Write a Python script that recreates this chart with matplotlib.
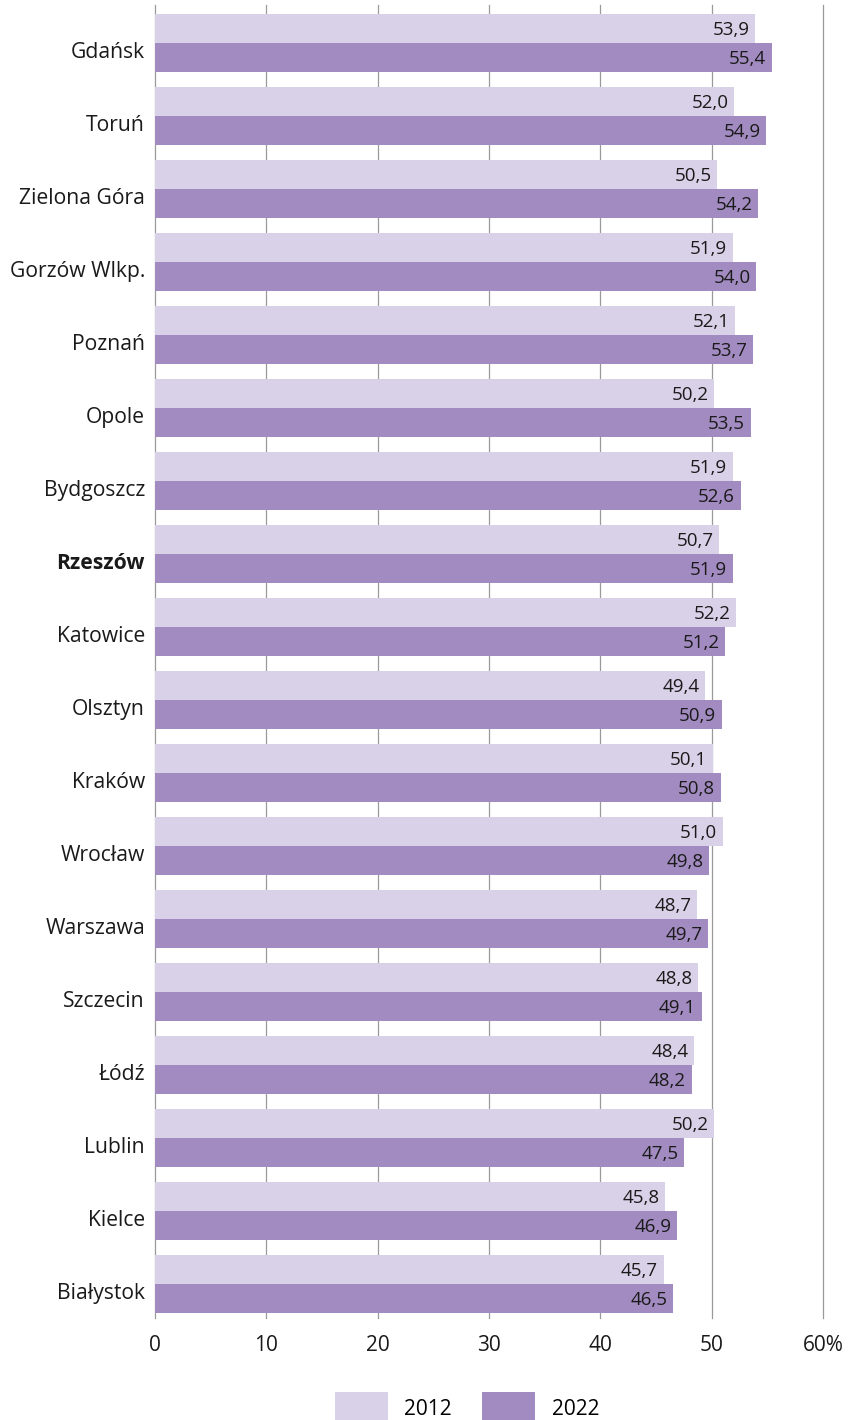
import matplotlib.pyplot as plt
import numpy as np

plt.rcParams['font.family'] = ['Open Sans', 'DejaVu Sans']

miasta = ["Gdańsk", "Toruń", "Zielona Góra", "Gorzów Wlkp.", "Poznań", "Opole",
          "Bydgoszcz", "Rzeszów", "Katowice", "Olsztyn", "Kraków", "Wrocław",
          "Warszawa", "Szczecin", "Łódź", "Lublin", "Kielce", "Białystok"]
r2012 = [53.9, 52.0, 50.5, 51.9, 52.1, 50.2, 51.9, 50.7, 52.2, 49.4, 50.1, 51.0,
         48.7, 48.8, 48.4, 50.2, 45.8, 45.7]
r2022 = [55.4, 54.9, 54.2, 54.0, 53.7, 53.5, 52.6, 51.9, 51.2, 50.9, 50.8, 49.8,
         49.7, 49.1, 48.2, 47.5, 46.9, 46.5]
lata = ["2012", "2022"]
xticks = [0, 10, 20, 30, 40, 50, 60]
xtick_labels = ["0", "10", "20", "30", "40", "50", "60%"]

kolor_2012 = "#d9d1e8"
kolor_2022 = "#a28bc0"
tekst = "#1a1a1a"

fig = plt.figure(figsize=(8.53, 14.2), dpi=100)
ax = fig.add_axes([155/853, 1 - 1318/1420, (823 - 155)/853, (1318 - 5)/1420])

y = np.arange(len(miasta))
h = 0.4
b1 = ax.barh(y - h/2, r2012, height=h, color=kolor_2012, label=lata[0], zorder=2)
b2 = ax.barh(y + h/2, r2022, height=h, color=kolor_2022, label=lata[1], zorder=2)

for bars in (b1, b2):
    for rect in bars:
        v = rect.get_width()
        ax.text(v - 0.5, rect.get_y() + rect.get_height()/2 + 0.02,
                f"{v:.1f}".replace(".", ","), ha="right", va="center",
                fontsize=13.5, color=tekst, zorder=3)

# nazwy miast troche ponizej srodka grupy, jak w oryginale
for yi, nazwa in zip(y, miasta):
    ax.annotate(nazwa, xy=(0, yi), xycoords=("axes fraction", "data"),
                xytext=(-10, -10), textcoords="offset pixels",
                ha="right", va="center", fontsize=15.2, color=tekst,
                fontweight="bold" if nazwa == "Rzeszów" else "normal")

ax.set_xlim(0, 60)
ax.set_ylim(17.47, -0.52)
ax.set_xticks(xticks)
ax.set_xticklabels(xtick_labels, fontsize=15, color=tekst)
ax.set_yticks([])
ax.tick_params(axis="both", length=0)
ax.tick_params(axis="x", pad=12)
for s in ax.spines.values():
    s.set_visible(False)
ax.grid(axis="x", color="#9a9a9a", linewidth=0.9, zorder=0)
for gl in ax.get_xgridlines():
    gl.set_clip_on(False)
ax.set_axisbelow(True)

fig.legend(handles=[b1, b2], labels=lata, loc="center", bbox_to_anchor=(467/853, 1 - 1408/1420),
           ncol=2, frameon=False, fontsize=15, handlelength=2.55, handleheight=1.95,
           columnspacing=1.45, handletextpad=0.8)

fig.savefig("out.png", dpi=100)
